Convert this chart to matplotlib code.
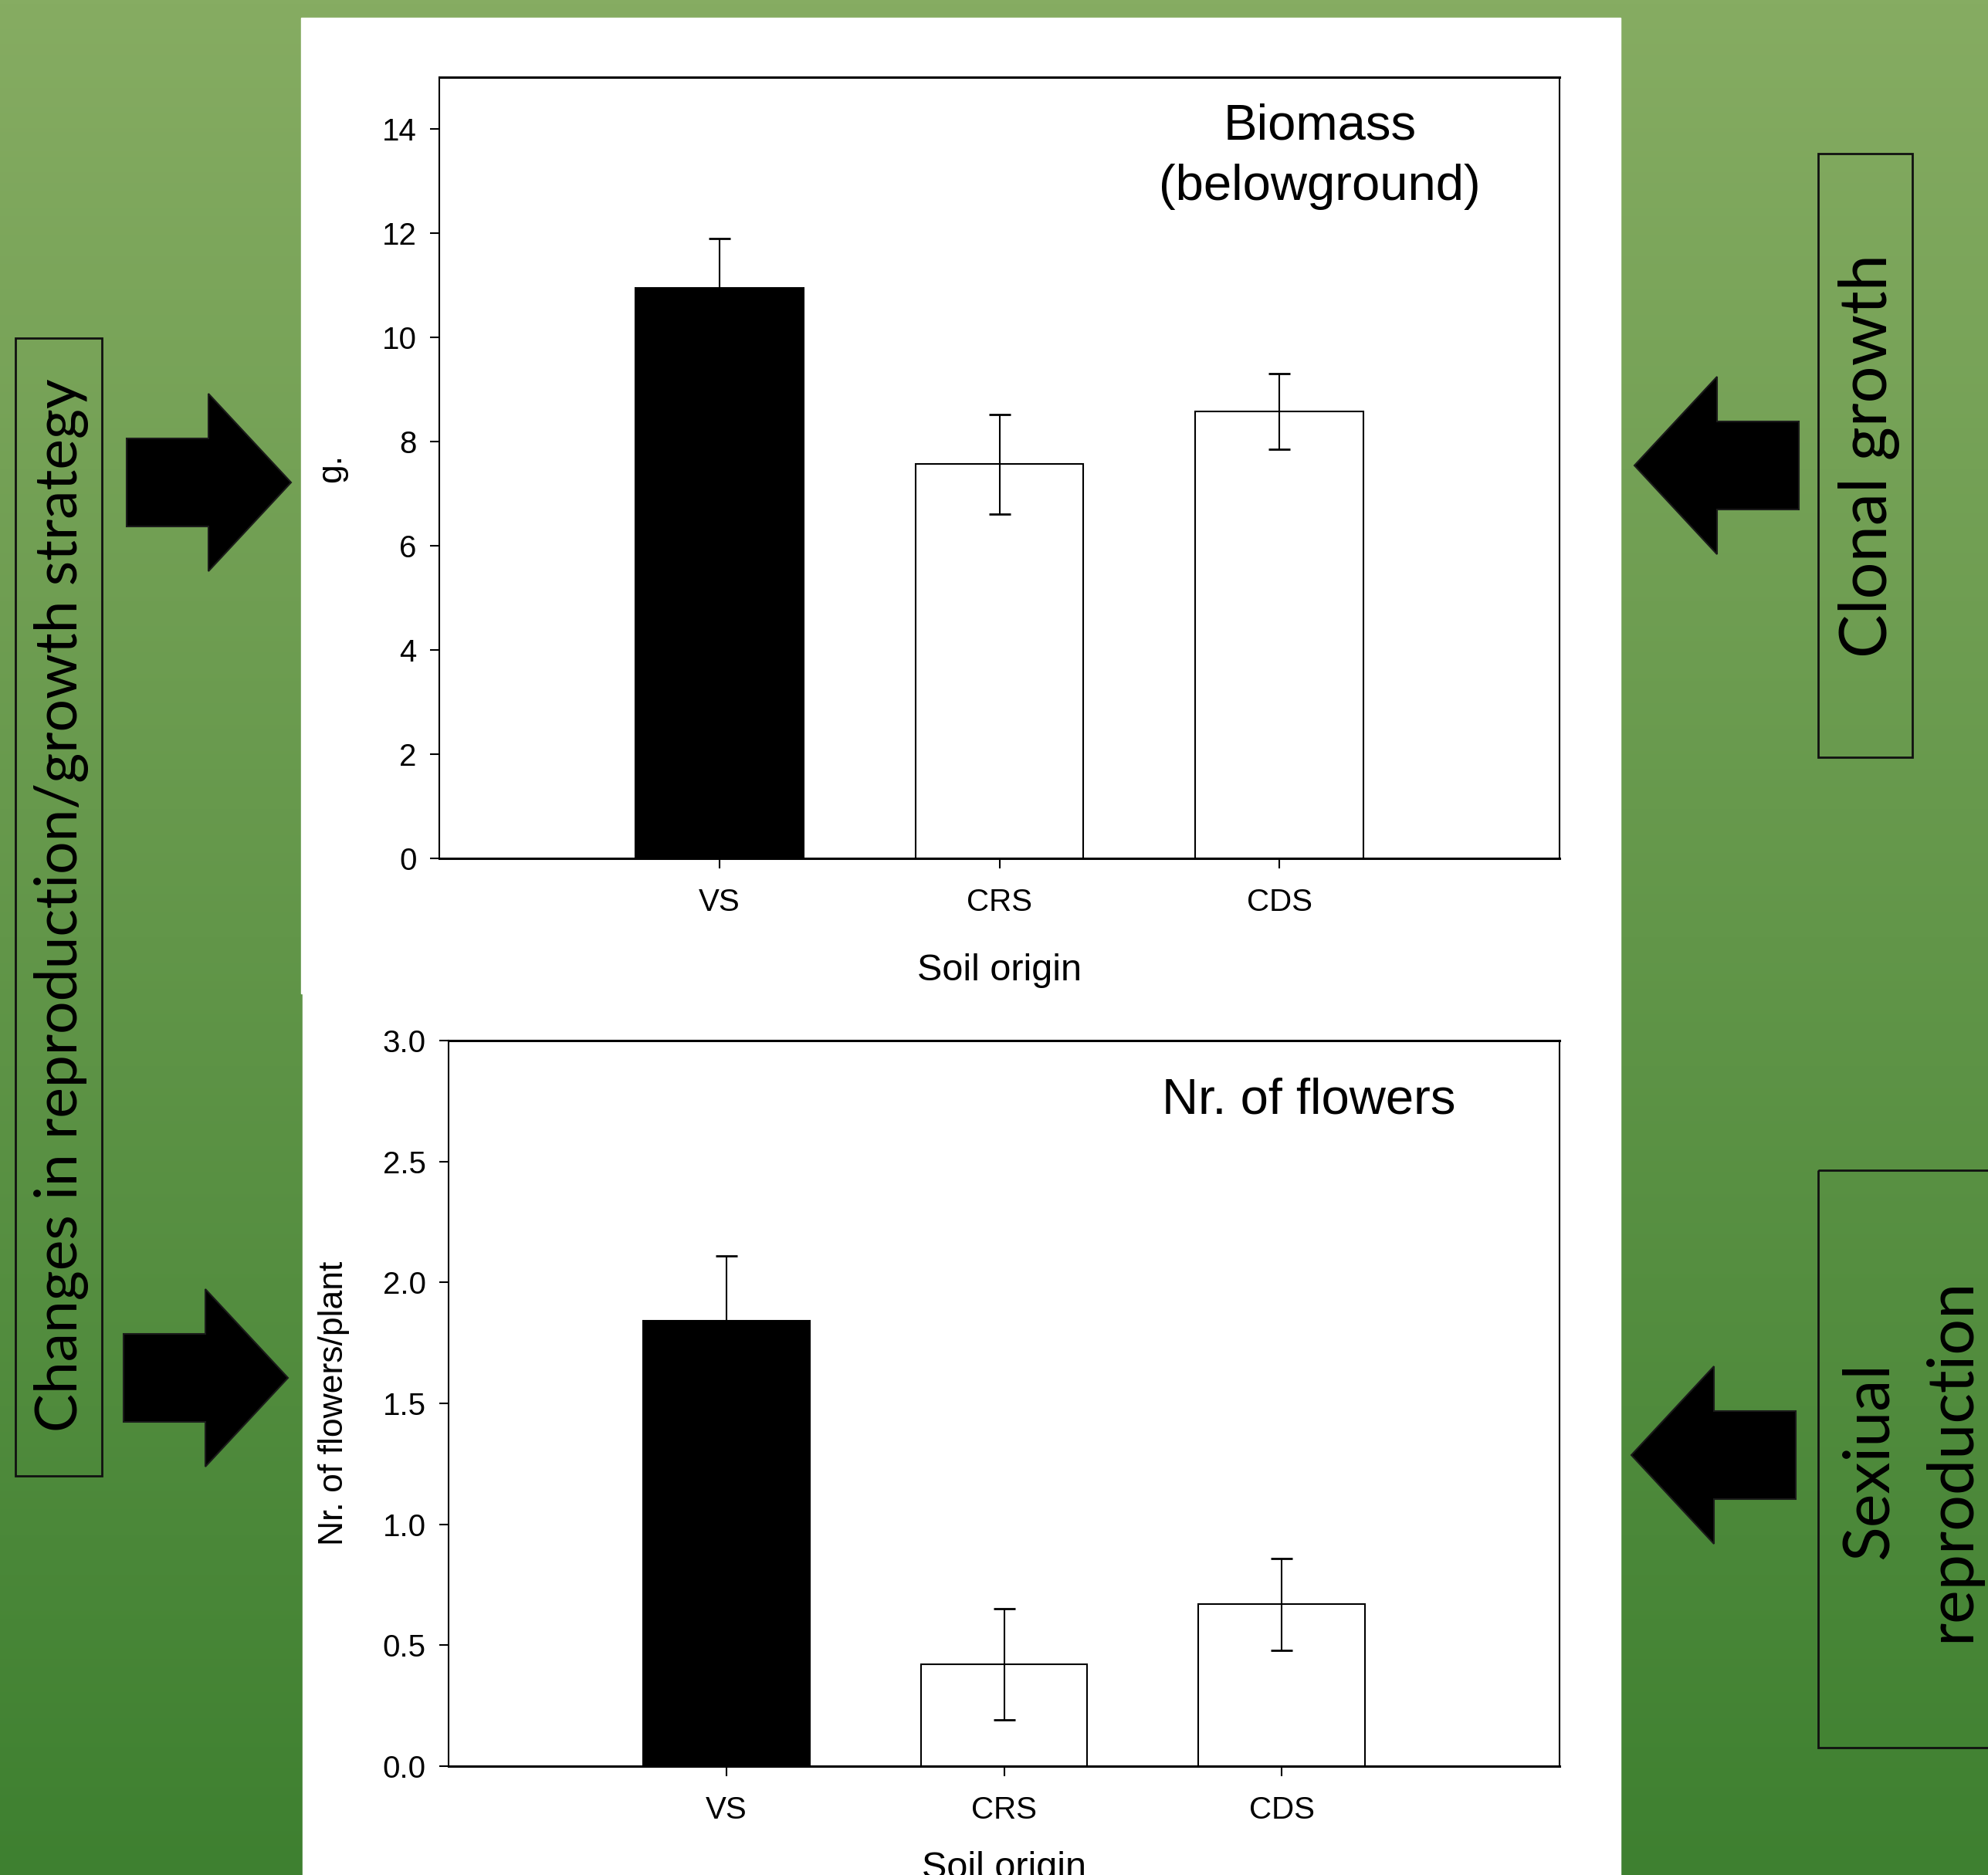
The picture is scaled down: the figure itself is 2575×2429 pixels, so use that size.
import matplotlib.pyplot as plt
import numpy as np
from matplotlib.patches import Rectangle, Polygon

W, H = 2575, 2429

soils = ['VS', 'CRS', 'CDS']
biomass = [10.95, 7.57, 8.58]
biomass_err = [0.95, 0.96, 0.73]
flowers = [1.84, 0.42, 0.67]
flowers_err = [0.27, 0.23, 0.19]
bar_colors = ['black', 'white', 'white']

plt.rcParams['font.family'] = 'Liberation Sans'
side_font = 'Lato'


def fx(x):
    return x / W


def fy(y):
    return 1 - y / H


fig = plt.figure(figsize=(W / 100, H / 100), dpi=100)

# background: green gradient, drawn in pixel coordinates
bg = fig.add_axes([0, 0, 1, 1], zorder=-10)
c_top = np.array([134, 172, 98]) / 255
c_bot = np.array([62, 128, 48]) / 255
t = np.linspace(0, 1, 512)[:, None]
grad = c_top * (1 - t) + c_bot * t
bg.imshow(grad[:, None, :], aspect='auto', extent=[0, W, H, 0])
bg.set_xlim(0, W)
bg.set_ylim(H, 0)
bg.axis('off')

# white panels behind the two charts
bg.add_patch(Rectangle((390, 23), 2099 - 390, 1287 - 23, color='white', zorder=2))
bg.add_patch(Rectangle((392, 1287), 2099 - 392, H - 1287, color='white', zorder=2))


def arrow(tip_x, tip_y, direction):
    d = direction
    base = tip_x - d * 107
    end = tip_x - d * 213
    pts = [(tip_x, tip_y), (base, tip_y - 115), (base, tip_y - 57),
           (end, tip_y - 57), (end, tip_y + 57), (base, tip_y + 57),
           (base, tip_y + 115)]
    bg.add_patch(Polygon(pts, closed=True, facecolor='black',
                         edgecolor='#1a1a1a', linewidth=1.5, zorder=3))


arrow(377, 625, 1)
arrow(373, 1785, 1)
arrow(2117, 603, -1)
arrow(2113, 1885, -1)

# text boxes
bg.add_patch(Rectangle((20, 438), 112, 1912 - 438, fill=False,
                       edgecolor='#111111', linewidth=2, zorder=3))
bg.add_patch(Rectangle((2355, 199), 2477 - 2355, 981 - 199, fill=False,
                       edgecolor='#111111', linewidth=2, zorder=3))
bg.add_patch(Rectangle((2355, 1516), 300, 2264 - 1516, fill=False,
                       edgecolor='#111111', linewidth=2, zorder=3))

bg.text(80, 1173, 'Changes in reproduction/growth strategy', rotation=90,
        ha='center', va='center', fontsize=54, family=side_font, zorder=4)
bg.text(2420, 591, 'Clonal growth', rotation=90,
        ha='center', va='center', fontsize=61, family=side_font, zorder=4)
bg.text(2422, 1892, 'Sexiual', rotation=90,
        ha='center', va='center', fontsize=59.5, family=side_font, zorder=4)
bg.text(2528, 1891, 'reproduction', rotation=90,
        ha='center', va='center', fontsize=59.5, family=side_font, zorder=4)

x = np.arange(1, len(soils) + 1)


def style(ax):
    ax.set_xlim(0, 4)
    ax.set_xticks(x)
    ax.set_xticklabels(soils)
    ax.tick_params(direction='out', length=9, width=1.5, labelsize=29)
    ax.tick_params(axis='x', pad=18)
    ax.tick_params(axis='y', pad=12)
    for s in ax.spines.values():
        s.set_linewidth(1.5)
    ax.spines['top'].set_linewidth(2.2)
    ax.spines['bottom'].set_linewidth(2.2)


# top chart: belowground biomass
ax1 = fig.add_axes([fx(569), fy(1112), (2020 - 569) / W, (1112 - 100) / H])
ax1.bar(x, biomass, width=0.6, color=bar_colors, edgecolor='black', linewidth=1.5)
ax1.errorbar(x, biomass, yerr=biomass_err, fmt='none', ecolor='black',
             elinewidth=1.5, capsize=10, capthick=2)
ax1.set_ylim(0, 15)
ax1.set_yticks(np.arange(0, 15, 2))
style(ax1)
ax1.set_ylabel('g.', fontsize=32)
ax1.yaxis.set_label_coords(-0.082, 0.5)
ax1.text(0.5, -0.144, 'Soil origin', transform=ax1.transAxes,
         ha='center', va='center', fontsize=35)
ax1.text(0.786, 0.92, 'Biomass', transform=ax1.transAxes,
         ha='center', va='baseline', fontsize=47)
ax1.text(0.786, 0.843, '(belowground)', transform=ax1.transAxes,
         ha='center', va='baseline', fontsize=47)

# bottom chart: number of flowers
ax2 = fig.add_axes([fx(581), fy(2288), (2020 - 581) / W, (2288 - 1348) / H])
ax2.bar(x, flowers, width=0.6, color=bar_colors, edgecolor='black', linewidth=1.5)
ax2.errorbar(x, flowers, yerr=flowers_err, fmt='none', ecolor='black',
             elinewidth=1.5, capsize=10, capthick=2)
ax2.set_ylim(0, 3)
ax2.set_yticks(np.arange(0, 3.01, 0.5))
ax2.set_yticklabels(['%.1f' % v for v in np.arange(0, 3.01, 0.5)])
style(ax2)
ax2.set_ylabel('Nr. of flowers/plant', fontsize=32)
ax2.yaxis.set_label_coords(-0.089, 0.5)
ax2.text(0.5, -0.141, 'Soil origin', transform=ax2.transAxes,
         ha='center', va='center', fontsize=35)
ax2.text(0.774, 0.899, 'Nr. of flowers', transform=ax2.transAxes,
         ha='center', va='baseline', fontsize=47)

fig.savefig('out.png', dpi=100)
